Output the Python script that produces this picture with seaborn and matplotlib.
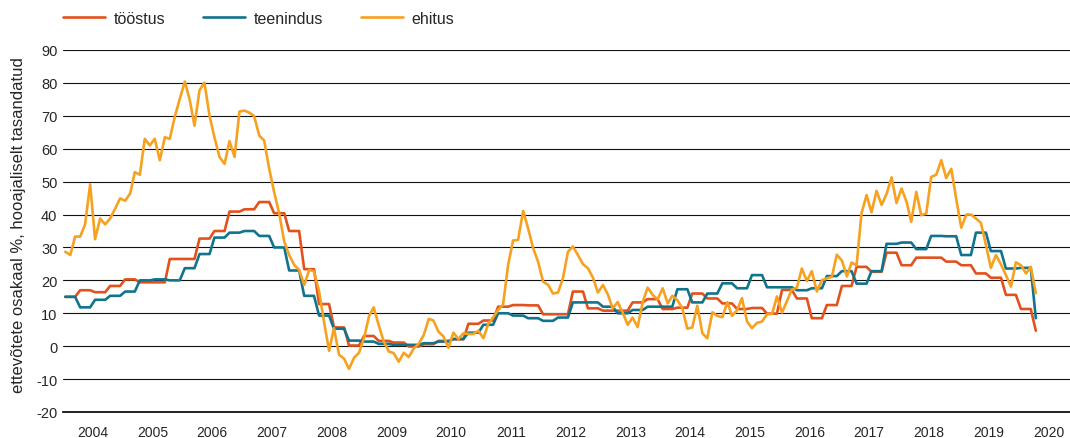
import matplotlib
matplotlib.use("Agg")
import matplotlib.pyplot as plt
import matplotlib.dates as mdates
from matplotlib import font_manager
import pandas as pd
import seaborn as sns

# monthly values, Jan 2004 - Apr 2020 (one row per year)
toostus = [
    15, 15, 15, 17, 17, 17, 16.4, 16.4, 16.4, 18.3, 18.3, 18.3,
    20.3, 20.3, 20.3, 19.4, 19.4, 19.4, 19.4, 19.4, 19.4, 26.5, 26.5, 26.5,
    26.5, 26.5, 26.5, 32.7, 32.7, 32.7, 35, 35, 35, 40.9, 40.9, 40.9,
    41.6, 41.6, 41.6, 43.8, 43.8, 43.8, 40.4, 40.4, 40.4, 35, 35, 35,
    23.4, 23.4, 23.4, 12.8, 12.8, 12.8, 5.7, 5.7, 5.7, 0.2, 0.2, 0.2,
    3.1, 3.1, 3.1, 1.6, 1.6, 1.6, 1.1, 1.1, 1.1, -0.1, -0.1, -0.1,
    0.6, 0.6, 0.6, 1.6, 1.6, 1.6, 2.1, 2.1, 2.1, 6.8, 6.8, 6.8,
    7.8, 7.8, 7.8, 12, 12, 12, 12.5, 12.5, 12.5, 12.4, 12.4, 12.4,
    9.7, 9.7, 9.7, 9.7, 9.7, 9.7, 16.6, 16.6, 16.6, 11.5, 11.5, 11.5,
    10.8, 10.8, 10.8, 10.8, 10.8, 10.8, 13.3, 13.3, 13.3, 14.3, 14.3, 14.3,
    11.3, 11.3, 11.3, 11.7, 11.7, 11.7, 16, 16, 16, 14.5, 14.5, 14.5,
    13, 13, 13, 11.3, 11.3, 11.3, 11.6, 11.6, 11.6, 9.9, 9.9, 9.9,
    17.1, 17.1, 17.1, 14.5, 14.5, 14.5, 8.5, 8.5, 8.5, 12.5, 12.5, 12.5,
    18.3, 18.3, 18.3, 24.1, 24.1, 24.1, 22.6, 22.6, 22.6, 28.4, 28.4, 28.4,
    24.6, 24.6, 24.6, 26.9, 26.9, 26.9, 26.9, 26.9, 26.9, 25.7, 25.7, 25.7,
    24.6, 24.6, 24.6, 22.1, 22.1, 22.1, 20.8, 20.8, 20.8, 15.6, 15.6, 15.6,
    11.3, 11.3, 11.3, 4.7,
]

teenindus = [
    15, 15, 15, 11.8, 11.8, 11.8, 14.1, 14.1, 14.1, 15.3, 15.3, 15.3,
    16.6, 16.6, 16.6, 20, 20, 20, 20.3, 20.3, 20.3, 20, 20, 20,
    23.7, 23.7, 23.7, 28, 28, 28, 33, 33, 33, 34.5, 34.5, 34.5,
    35, 35, 35, 33.5, 33.5, 33.5, 30, 30, 30, 23, 23, 23,
    15.3, 15.3, 15.3, 9.3, 9.3, 9.3, 5.3, 5.3, 5.3, 1.7, 1.7, 1.7,
    1.4, 1.4, 1.4, 0.7, 0.7, 0.7, 0.4, 0.4, 0.4, 0.4, 0.4, 0.4,
    0.9, 0.9, 0.9, 1.4, 1.4, 1.4, 2.2, 2.2, 2.2, 4.1, 4.1, 4.1,
    6.5, 6.5, 6.5, 10, 10, 10, 9.3, 9.3, 9.3, 8.5, 8.5, 8.5,
    7.7, 7.7, 7.7, 8.7, 8.7, 8.7, 13.3, 13.3, 13.3, 13.3, 13.3, 13.3,
    12, 12, 12, 10, 10, 10, 11, 11, 11, 12, 12, 12,
    12, 12, 12, 17.3, 17.3, 17.3, 13.3, 13.3, 13.3, 16, 16, 16,
    19.1, 19.1, 19.1, 17.6, 17.6, 17.6, 21.6, 21.6, 21.6, 17.9, 17.9, 17.9,
    17.9, 17.9, 17.9, 17, 17, 17, 17.6, 17.6, 17.6, 21.3, 21.3, 21.3,
    22.8, 22.8, 22.8, 19, 19, 19, 22.8, 22.8, 22.8, 31.1, 31.1, 31.1,
    31.5, 31.5, 31.5, 29.5, 29.5, 29.5, 33.5, 33.5, 33.5, 33.4, 33.4, 33.4,
    27.7, 27.7, 27.7, 34.5, 34.5, 34.5, 28.9, 28.9, 28.9, 23.6, 23.6, 23.6,
    23.8, 23.8, 23.8, 8.5,
]

ehitus = [
    28.7, 27.7, 33.3, 33.3, 37, 49.2, 32.5, 38.8, 37, 38.8, 41.8, 44.9,
    44.2, 46.4, 52.9, 52.1, 63, 61, 63, 56.5, 63.5, 63, 69.8, 75.1,
    80.4, 74.6, 67, 77.8, 80.1, 70, 63.5, 57.5, 55.4, 62.3, 57.5, 71.3,
    71.6, 70.9, 69.9, 64, 62.5, 53.9, 46.9, 40.3, 31.8, 27.7, 24.7, 23.2,
    18.6, 23.2, 22.7, 16.6, 7.5, -1.4, 5.5, -2.6, -3.8, -6.9, -3.5, -2,
    2.5, 9.2, 11.8, 6.3, 1.5, -1.6, -2.1, -4.7, -2, -3.3, -0.7, 0.7,
    3.4, 8.3, 7.8, 4.4, 3, -0.5, 4.1, 2.2, 3.9, 3.7, 3.7, 4.7,
    2.4, 7, 8.7, 11, 12.6, 24.7, 32.1, 32.3, 41.1, 35.8, 29.8, 25.7,
    19.6, 18.6, 16, 16.3, 20.6, 28.7, 30.3, 27.7, 24.9, 23.7, 20.8, 16.3,
    18.6, 15.6, 11.5, 13.4, 10.3, 6.5, 8.7, 5.8, 13.4, 17.8, 15.6, 14.2,
    17.6, 13, 15.3, 14, 11.5, 5.3, 5.7, 12.3, 3.9, 2.4, 10.3, 9.2,
    8.8, 13.4, 9.2, 10.9, 14.6, 7.5, 5.5, 7.1, 7.5, 9.7, 9.8, 15.1,
    10.2, 13.8, 17.2, 17.8, 23.6, 19.8, 22.8, 16.6, 20.1, 20.6, 21.1, 27.8,
    26, 21.2, 25.4, 24.6, 40.4, 45.9, 40.7, 47.2, 42.9, 46.2, 51.3, 43.5,
    47.9, 43.8, 37.8, 46.9, 39.8, 40.3, 51.4, 52.1, 56.5, 51.1, 53.9, 44.8,
    36, 40, 40, 38.8, 37.5, 30.7, 23.8, 27.7, 24.8, 21.6, 18.1, 25.5,
    24.6, 22.1, 24.1, 16.1,
]

sectors = ["tööstus", "teenindus", "ehitus"]
colors = {"tööstus": "#e2521d", "teenindus": "#11748c", "ehitus": "#f6a120"}

months = pd.date_range("2004-01-01", periods=len(ehitus), freq="MS") + pd.Timedelta(days=14)
df = pd.DataFrame({"kuu": months, "tööstus": toostus, "teenindus": teenindus, "ehitus": ehitus})
long = df.melt(id_vars="kuu", var_name="sektor", value_name="osakaal")

sns.set_style("white")
plt.rcParams["font.family"] = ["Liberation Sans", "DejaVu Sans"]
plt.rcParams["axes.unicode_minus"] = False

names = {f.name for f in font_manager.fontManager.ttflist}
narrow = "Liberation Sans Narrow" if "Liberation Sans Narrow" in names else "Liberation Sans"

fig = plt.figure(figsize=(10.7, 4.39), dpi=100)
ax = fig.add_axes([63 / 1070, 26 / 439, 1007 / 1070, 362 / 439])

sns.lineplot(data=long, x="kuu", y="osakaal", hue="sektor", hue_order=sectors,
             palette=colors, linewidth=1.9, legend=False, ax=ax)

ax.set_ylim(-20, 90)
ax.set_yticks(range(-20, 91, 10))
ax.set_xlim(pd.Timestamp("2004-01-01"), pd.Timestamp("2020-11-10"))
ax.set_axisbelow(True)
ax.grid(axis="y", color="#111111", linewidth=0.8)
ax.grid(axis="x", visible=False)

for side in ["top", "right", "left"]:
    ax.spines[side].set_visible(False)
ax.spines["bottom"].set_color("#111111")
ax.spines["bottom"].set_linewidth(1.3)

ax.xaxis.set_major_locator(mdates.YearLocator())
ax.xaxis.set_major_formatter(plt.NullFormatter())
ax.xaxis.set_minor_locator(mdates.YearLocator(month=7))
ax.xaxis.set_minor_formatter(mdates.DateFormatter("%Y"))
ax.tick_params(axis="x", which="major", direction="in", length=6, width=0.8, color="#111111")
ax.tick_params(axis="x", which="minor", length=0, pad=9.5, labelsize=10)
for lab in ax.get_xticklabels(minor=True):
    lab.set_family(narrow)
ax.tick_params(axis="y", length=0, pad=4, labelsize=10.5)

ax.set_xlabel("")
ax.set_ylabel("ettevõtete osakaal %, hooajaliselt tasandatud", fontsize=12)
ax.yaxis.set_label_coords(-0.037, 0.52)

handles = ax.get_lines()[:3]
fig.legend(handles, sectors, loc="center left", bbox_to_anchor=(63 / 1070, 1 - 19 / 439),
           ncol=3, frameon=False, fontsize=11.5, borderpad=0, borderaxespad=0,
           handlelength=2.6, handletextpad=0.55, columnspacing=2.4)

fig.savefig("out.png", dpi=100)
